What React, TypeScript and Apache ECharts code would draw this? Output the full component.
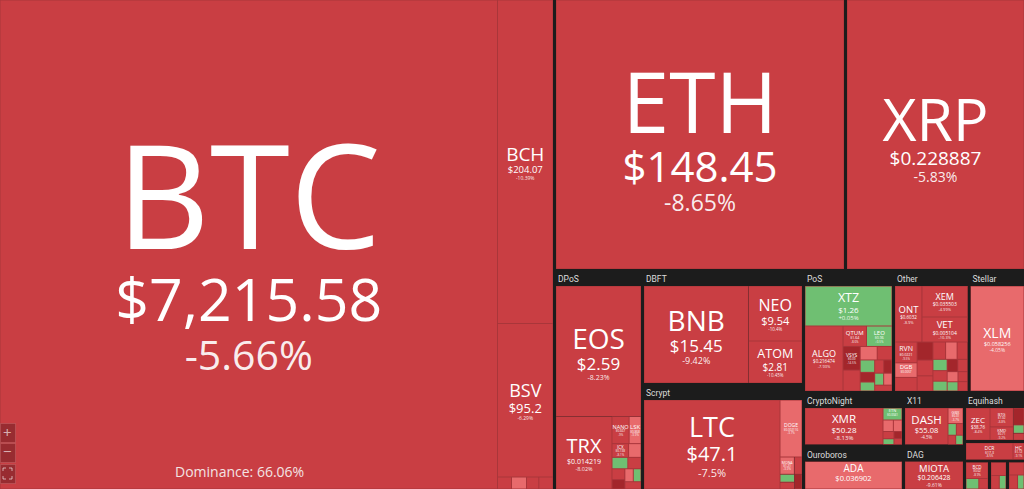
import React, { useEffect, useRef } from 'react';
import * as echarts from 'echarts';

const FONT = '"Open Sans", "Noto Sans", sans-serif';
const HEAD_FONT = 'Roboto, "Open Sans", sans-serif';
const DARK = '#1c1c1c';
const LEAF_BORDER = '#a9363b';

// ---------------- data: area weights, price, 24h change % ----------------
// SHA-256
const shaNames = ['BTC', 'BCH', 'BSV', 'NMC', 'PPC', 'EMC', 'UNO'];
const shaValues = [246098, 18162, 8618, 170, 182, 150, 172];
const shaPrices = [7215.58, 204.07, 95.2, 0.41, 0.27, 0.11, 58.3];
const shaChanges = [-5.66, -10.39, -6.29, -7.9, -3.6, -9.4, -5.1];

// Ethash / XRP
const topNames = ['ETH', 'XRP'];
const topValues = [79152, 48960];
const topPrices = [148.45, 0.228887];
const topChanges = [-8.65, -5.83];

// DPoS
const dposNames = ['EOS', 'TRX'];
const dposValues = [12446, 4555];
const dposPrices = [2.59, 0.014219];
const dposChanges = [-8.23, -8.02];
const dposSmallNames = ['NANO', 'LSK', 'ICX', 'BTS', 'ARK', 'STEEM', 'WAX', 'EOSDAC', 'RISE', 'SHIFT', 'OXY'];
const dposSmallValues = [521, 362, 256, 191, 202, 168, 157, 135, 123, 112, 132];
const dposSmallPrices = [0.667, 0.868, 0.138, 0.031, 0.205, 0.118, 0.031, 0.004, 0.021, 0.042, 0.009];
const dposSmallChanges = [-9.0, -3.9, -8.1, -3.4, 1.2, -11.0, -6.0, -13.0, -4.0, 0.8, -7.0];

// DBFT
const dbftNames = ['BNB', 'NEO', 'ATOM'];
const dbftValues = [12139, 3524, 2691];
const dbftPrices = [15.45, 9.54, 2.81];
const dbftChanges = [-9.42, -10.4, -10.45];

// Scrypt
const scryptNames = ['LTC', 'DOGE', 'MONA', 'VTC', 'EMC2', 'GAME', 'FTC'];
const scryptValues = [14690, 1522, 300, 160, 140, 120, 134];
const scryptPrices = [47.1, 0.002116, 1.21, 0.27, 0.041, 0.073, 0.018];
const scryptChanges = [-7.5, -3.7, -3.9, -6.2, 0.9, -8.8, -12.3];

// PoS
const posNames = ['XTZ'];
const posValues = [4183];
const posPrices = [1.26];
const posChanges = [0.05];
const algoNames = ['ALGO'];
const algoValues = [2969];
const algoPrices = [0.216474];
const algoChanges = [-7.93];
const posSmallNames = ['QTUM', 'LEO', 'VSYS', 'WAVES', 'NRG', 'PIVX', 'NXT', 'ARDR', 'NAV', 'BLK', 'POT', 'CLAM', 'GRC', 'BAY'];
const posSmallValues = [577, 627, 488, 433, 276, 240, 216, 168, 156, 144, 132, 129, 120, 122];
const posSmallPrices = [1.64, 0.96, 0.09, 0.77, 1.12, 0.21, 0.013, 0.036, 0.077, 0.029, 0.005, 1.35, 0.006, 0.041];
const posSmallChanges = [-8.6, 0.5, -14.5, -8.9, -3.5, -9.3, 2.1, -12.8, 1.4, -6.7, -15.0, 3.2, -4.0, -10.2];

// Other
const ontNames = ['ONT'];
const ontValues = [1829];
const ontPrices = [0.6032];
const ontChanges = [-8.9];
const xvNames = ['XEM', 'VET'];
const xvValues = [1707, 1376];
const xvPrices = [0.035503, 0.005104];
const xvChanges = [-4.99, -10.3];
const otherBotNames = ['RVN', 'DGB', 'ZRX', 'BTM', 'ZIL', 'SC', 'XVG', 'BTT', 'HOT', 'BCN', 'MAID', 'NEXO', 'AE', 'ETP', 'WTC', 'SYS', 'XMX', 'GRS'];
const otherBotValues = [557, 390, 363, 346, 303, 290, 266, 242, 218, 194, 182, 169, 157, 145, 133, 121, 115, 108];
const otherBotPrices = [0.0221, 0.0057, 0.16, 0.061, 0.0042, 0.0014, 0.0029, 0.0003, 0.0007, 0.0003, 0.13, 0.09, 0.11, 0.32, 0.54, 0.032, 0.0004, 0.21];
const otherBotChanges = [-9.5, -3.8, -7.6, -13.5, -8.2, -6.9, -11.0, -4.1, -9.8, 1.5, -5.5, 0.6, -13.1, -7.7, -3.9, 2.2, -8.0, -11.4];

// Stellar
const stellarNames = ['XLM'];
const stellarValues = [6893];
const stellarPrices = [0.058256];
const stellarChanges = [-4.05];

// CryptoNight
const cnNames = ['XMR'];
const cnValues = [4302];
const cnPrices = [50.28];
const cnChanges = [-8.13];
const cnSmallNames = ['ETN', 'LOKI', 'XHV', 'TRTL', 'AEON', 'GRFT', 'MSR'];
const cnSmallValues = [345, 180, 150, 120, 95, 85, 73];
const cnSmallPrices = [0.0041, 0.21, 0.56, 0.00003, 0.12, 0.0011, 0.045];
const cnSmallChanges = [0.7, -3.6, -4.1, -9.0, 1.1, -13.0, -7.0];

// Ouroboros
const ouroNames = ['ADA'];
const ouroValues = [4450];
const ouroPrices = [0.036902];
const ouroChanges = [-3.82];

// X11
const x11Names = ['DASH'];
const x11Values = [2419];
const x11Prices = [55.08];
const x11Changes = [-4.5];
const x11SmallNames = ['GBX', 'CRW', 'SIB', 'ION', 'XMY'];
const x11SmallValues = [360, 150, 120, 110, 104.5];
const x11SmallPrices = [0.31, 0.07, 0.05, 0.03, 0.0002];
const x11SmallChanges = [-3.7, 1.8, -8.0, -11.8, 0.4];

// DAG
const dagNames = ['MIOTA'];
const dagValues = [2714.5];
const dagPrices = [0.206428];
const dagChanges = [-9.61];

// Equihash
const eqNames = ['ZEC', 'BTG', 'KMD', 'ZEN', 'ZCL', 'HUSH'];
const eqValues = [1237, 712, 490, 290, 145, 115];
const eqPrices = [38.76, 7.92, 0.71, 6.41, 0.04, 0.06];
const eqChanges = [-8.4, -8.8, -9.2, -12.6, 1.6, -7.1];

// Decred & small groups
const dcrNames = ['DCR', 'HC'];
const dcrValues = [964, 225.5];
const dcrPrices = [17.3, 1.12];
const dcrChanges = [-8.5, -9.1];
const g1Names = ['BCD', 'XDN', 'BCA'];
const g1Values = [445, 170, 122.5];
const g1Prices = [0.62, 0.0002, 0.31];
const g1Changes = [-8.9, 2.4, -6.0];
const g2Names = ['BTCZ', 'ZER', 'XSG'];
const g2Values = [260, 150, 121];
const g2Prices = [0.0003, 0.21, 0.0008];
const g2Changes = [-9.0, -5.8, 1.2];
const g3Names = ['XSN', 'LBC', 'DIME'];
const g3Values = [250, 160, 121];
const g3Prices = [0.26, 0.021, 0.000003];
const g3Changes = [-10.0, -7.5, 0.9];

// ---------------- label styles (font sizes: name, price, change) ----------------
const labelFonts: Record<string, [number, number, number]> = {
  BTC: [145, 59, 41], ETH: [84, 42, 23], XRP: [59, 19, 14],
  BCH: [19, 9.5, 5], BSV: [18, 13, 5], EOS: [28, 17, 7], TRX: [20, 7, 5.5],
  BNB: [28, 17, 9], NEO: [16, 11, 4.5], ATOM: [12.5, 10, 4.5], LTC: [27, 20, 11],
  XTZ: [12.5, 8, 6], ALGO: [9, 4.5, 4], XLM: [14, 5.5, 5], XEM: [9, 5, 4], VET: [9.5, 5, 4],
  ONT: [9.5, 4.5, 4], XMR: [11.5, 8, 6], DASH: [11.5, 7.5, 4.5], ADA: [10, 7.5, 5],
  MIOTA: [9.5, 6.8, 5], ZEC: [8, 4.5, 3.5], DCR: [5, 3.5, 3], HC: [5, 3, 3],
  QTUM: [6, 3.5, 3], LEO: [6, 3.5, 3], VSYS: [5, 3, 3], RVN: [7, 3.5, 3], DGB: [6, 3, 3],
  NANO: [5.5, 3, 3], LSK: [6, 3, 3], ICX: [4.5, 3, 3], DOGE: [5, 3, 3], ETN: [4, 3, 3],
  GBX: [4, 3, 3], BCD: [4.5, 3, 3], BTG: [4, 3, 3], KMD: [4, 3, 3], MONA: [3.5, 3, 3],
};
function lineFactors(nameSize: number): [number, number, number] {
  return nameSize >= 40 ? [1.0, 1.1, 1.15] : [1.1, 1.2, 1.2];
}

function colorFor(ch: number) {
  if (ch >= 0) return '#6fbf72';
  if (ch > -4.3) return '#e86a6c';
  if (ch > -12) return '#c93e43';
  return '#a3262b';
}
const fmtPrice = (p: number) => '$' + p.toLocaleString('en-US', { maximumFractionDigits: 6 });
const fmtChange = (c: number) => (c > 0 ? '+' : '') + c + '%';

type Pads = Record<string, number>;

function leaf(name: string, value: number, price: number, change: number, pads: Pads): any {
  const node: any = { name, value, itemStyle: { color: colorFor(change), borderColor: LEAF_BORDER, borderWidth: 0.5 } };
  const f = labelFonts[name];
  if (!f) { node.label = { show: false }; return node; }
  const k = lineFactors(f[0]);
  const text = `{nm|${name}}\n{pr|${fmtPrice(price)}}\n{ch|${fmtChange(change)}}`;
  node.label = {
    show: true,
    position: 'inside',
    overflow: 'none',
    padding: [pads[name] || 0, 0, 0, 0],
    formatter: () => text,
    rich: {
      nm: { fontFamily: FONT, fontSize: f[0], lineHeight: f[0] * k[0], color: '#ffffff', align: 'center' },
      pr: { fontFamily: FONT, fontSize: f[1], lineHeight: f[1] * k[1], color: '#ffffff', align: 'center' },
      ch: { fontFamily: FONT, fontSize: f[2], lineHeight: f[2] * k[2], color: 'rgba(255,255,255,0.92)', align: 'center' },
    },
  };
  return node;
}
function mk(names: string[], values: number[], prices: number[], changes: number[], pads: Pads) {
  return names.map((n, i) => leaf(n, values[i], prices[i], changes[i], pads));
}
function split(name: string, children: any[]) {
  return { name, children, itemStyle: { borderColor: DARK, borderWidth: 0, gapWidth: 3 }, upperLabel: { show: false } };
}
function plain(name: string, children: any[]) {
  return { name, children, itemStyle: { borderColor: LEAF_BORDER, borderWidth: 0, gapWidth: 0 }, upperLabel: { show: false } };
}
function header(name: string, children: any[]) {
  return {
    name, children,
    itemStyle: { borderColor: DARK, borderWidth: 0, gapWidth: 0 },
    upperLabel: { show: true, height: 14, color: '#dcdcdc', fontSize: 8.5, fontFamily: HEAD_FONT, fontWeight: 'normal', padding: [0, 0, 0, 2] },
  };
}

function buildTree(p: Pads) {
  return [
    plain('SHA-256', mk(shaNames, shaValues, shaPrices, shaChanges, p)),
    split('Right', [
      ...mk(topNames, topValues, topPrices, topChanges, p),
      split('Bottom', [
        header('DPoS', [
          ...mk(dposNames, dposValues, dposPrices, dposChanges, p),
          plain('DPoS small', mk(dposSmallNames, dposSmallValues, dposSmallPrices, dposSmallChanges, p)),
        ]),
        split('Rest2', [
          split('Col2', [
            header('DBFT', mk(dbftNames, dbftValues, dbftPrices, dbftChanges, p)),
            header('Scrypt', mk(scryptNames, scryptValues, scryptPrices, scryptChanges, p)),
          ]),
          split('Rest3', [
            split('Top row', [
              split('T1', [
                header('PoS', [
                  ...mk(posNames, posValues, posPrices, posChanges, p),
                  plain('PoS rest', [
                    ...mk(algoNames, algoValues, algoPrices, algoChanges, p),
                    plain('PoS small', mk(posSmallNames, posSmallValues, posSmallPrices, posSmallChanges, p)),
                  ]),
                ]),
                header('Other', [
                  plain('Other top', [
                    ...mk(ontNames, ontValues, ontPrices, ontChanges, p),
                    plain('XEM VET', mk(xvNames, xvValues, xvPrices, xvChanges, p)),
                  ]),
                  plain('Other bottom', mk(otherBotNames, otherBotValues, otherBotPrices, otherBotChanges, p)),
                ]),
              ]),
              header('Stellar', mk(stellarNames, stellarValues, stellarPrices, stellarChanges, p)),
            ]),
            split('Bottom row', [
              split('B1', [
                split('Col3', [
                  header('CryptoNight', [
                    ...mk(cnNames, cnValues, cnPrices, cnChanges, p),
                    plain('CN small', mk(cnSmallNames, cnSmallValues, cnSmallPrices, cnSmallChanges, p)),
                  ]),
                  header('Ouroboros', mk(ouroNames, ouroValues, ouroPrices, ouroChanges, p)),
                ]),
                split('Col4', [
                  header('X11', [
                    ...mk(x11Names, x11Values, x11Prices, x11Changes, p),
                    plain('X11 small', mk(x11SmallNames, x11SmallValues, x11SmallPrices, x11SmallChanges, p)),
                  ]),
                  header('DAG', mk(dagNames, dagValues, dagPrices, dagChanges, p)),
                ]),
              ]),
              split('Col5', [
                split('EQ2', [
                  header('Equihash', mk(eqNames, eqValues, eqPrices, eqChanges, p)),
                  plain('Decred', mk(dcrNames, dcrValues, dcrPrices, dcrChanges, p)),
                ]),
                split('C5c', [
                  plain('g1', mk(g1Names, g1Values, g1Prices, g1Changes, p)),
                  plain('g2', mk(g2Names, g2Values, g2Prices, g2Changes, p)),
                  plain('g3', mk(g3Names, g3Values, g3Prices, g3Changes, p)),
                ]),
              ]),
            ]),
          ]),
        ]),
      ]),
    ]),
  ];
}

function cornerIcon(): any[] {
  const x0 = 3, y0 = 468, x1 = 12, y1 = 479, d = 3;
  const st = { stroke: 'rgba(255,255,255,0.6)', lineWidth: 1, fill: 'none' };
  return [
    [[x0, y0 + d], [x0, y0], [x0 + d, y0]],
    [[x1 - d, y0], [x1, y0], [x1, y0 + d]],
    [[x0, y1 - d], [x0, y1], [x0 + d, y1]],
    [[x1 - d, y1], [x1, y1], [x1, y1 - d]],
  ].map((pts) => ({ type: 'polyline', z: 100, shape: { points: pts }, style: st }));
}

function buildOption(p: Pads): any {
  const btnStyle = { fill: 'rgba(60,12,16,0.35)', stroke: 'rgba(255,255,255,0.12)', lineWidth: 1 };
  return {
    animation: false,
    backgroundColor: DARK,
    series: [
      {
        type: 'treemap',
        left: 0, top: 0, width: 1024, height: 489,
        sort: false,
        squareRatio: 1.16,
        roam: false,
        nodeClick: false,
        breadcrumb: { show: false },
        label: { show: false },
        upperLabel: { show: false },
        itemStyle: { borderColor: DARK, borderWidth: 0, gapWidth: 0 },
        levels: [{ itemStyle: { borderColor: DARK, borderWidth: 0, gapWidth: 3 }, upperLabel: { show: false } }],
        data: buildTree(p),
      },
    ],
    graphic: [
      { type: 'text', z: 100, left: 175, top: 464, style: { text: 'Dominance: 66.06%', fill: '#f3e4e4', font: `14px ${FONT}` } },
      { type: 'rect', z: 100, left: 0, top: 423, shape: { width: 15, height: 19 }, style: btnStyle },
      { type: 'rect', z: 100, left: 0, top: 443, shape: { width: 15, height: 19 }, style: btnStyle },
      { type: 'rect', z: 100, left: 0, top: 464, shape: { width: 15, height: 19 }, style: btnStyle },
      { type: 'text', z: 101, left: 3, top: 424, style: { text: '+', fill: 'rgba(255,255,255,0.65)', font: `15px ${FONT}` } },
      { type: 'text', z: 101, left: 3, top: 443, style: { text: '\u2212', fill: 'rgba(255,255,255,0.65)', font: `15px ${FONT}` } },
      ...cornerIcon(),
    ],
  };
}

export default function App() {
  const ref = useRef<HTMLDivElement>(null);
  useEffect(() => {
    if (!ref.current) return;
    const chart = echarts.init(ref.current, undefined, { renderer: 'svg' });
    chart.setOption(buildOption({}));
    const pads: Pads = {};
    try {
      const data = (chart as any).getModel().getSeriesByIndex(0).getData();
      for (let i = 0; i < data.count(); i++) {
        const name = data.getName(i);
        const f = labelFonts[name];
        const lay = data.getItemLayout(i);
        if (f && lay) {
          const k = lineFactors(f[0]);
          const block = f[0] * k[0] + f[1] * k[1] + f[2] * k[2];
          pads[name] = Math.max(0, (lay.height - 1 - block) / 2 + f[0] * 0.03);
        }
      }
    } catch (e) {
      // keep defaults
    }
    chart.setOption(buildOption(pads), { notMerge: true });
    return () => chart.dispose();
  }, []);
  return <div ref={ref} style={{ position: 'fixed', left: 0, top: 0, width: 1024, height: 489 }} />;
}
